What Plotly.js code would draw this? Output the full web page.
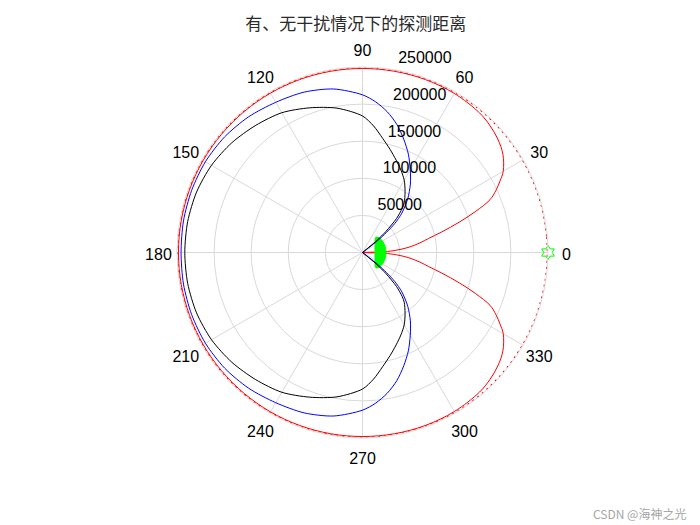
<!DOCTYPE html>
<html>
<head>
<meta charset="utf-8">
<script src="https://cdn.plot.ly/plotly-3.0.1.min.js"></script>
<style>html,body{margin:0;padding:0;background:#fff;}#chart{width:700px;height:525px;}</style>
</head>
<body>
<div id="chart"></div>
<script>
// ---- data ----
const TITLE = '有、无干扰情况下的探测距离';
const R_MAX = 250000;
const radialTicks = [50000, 100000, 150000, 200000, 250000];
const radialTickText = ['50000', '100000', '150000', '200000', '250000'];
const angleTicks = [0, 30, 60, 90, 120, 150, 180, 210, 240, 270, 300, 330];
const angleTickText = ['0', '30', '60', '90', '120', '150', '180', '210', '240', '270', '300', '330'];

// red solid: detection range (notch towards 0 deg)
const redTheta = [0, 2, 4, 6.5, 9.5, 12, 14.5, 17.5, 20, 22.5, 25, 27.5, 30, 35, 40, 45, 50, 60, 70, 80, 90,
  100, 110, 120, 130, 140, 150, 160, 170, 180, 190, 200, 210, 220, 230, 240, 250, 260, 270,
  280, 290, 300, 310, 315, 320, 325, 330, 332.5, 335, 337.5, 340, 342.5, 345.5, 348, 350.5, 353.5, 356, 358, 360];
const redR = [0, 29000, 46500, 63000, 78500, 91000, 110000, 137500, 162500, 186000, 198500, 209000, 219000, 231000, 238000, 242500, 245500, 247500, 248000, 248000, 248000,
  248000, 248000, 248000, 248000, 248000, 248000, 248000, 248000, 248000, 248000, 248000, 248000, 248000, 248000, 248000, 248000, 248000, 248000,
  248000, 248000, 247500, 245500, 242500, 238000, 231000, 219000, 209000, 198500, 186000, 162500, 137500, 110000, 91000, 78500, 63000, 46500, 29000, 0];

// red dotted: range without jamming (constant)
const dottedR = 249000;
const dottedTheta = [0, 5, 10, 15, 20, 25, 30, 35, 40, 45, 50, 55, 60, 65, 70, 75, 80, 85, 90, 95, 100, 105, 110, 115, 120,
  125, 130, 135, 140, 145, 150, 155, 160, 165, 170, 175, 180, 185, 190, 195, 200, 205, 210, 215, 220, 225, 230, 235, 240,
  245, 250, 255, 260, 265, 270, 275, 280, 285, 290, 295, 300, 305, 310, 315, 320, 325, 330, 335, 340, 345, 350, 355, 360];

// blue
const blueTheta = [0, 36, 38, 40, 42, 45, 50, 55, 60, 65, 70, 75, 80, 85, 90, 100, 110, 120, 130, 140, 150, 160, 170, 180,
  190, 200, 210, 220, 230, 240, 250, 260, 270, 275, 280, 285, 290, 295, 300, 305, 310, 315, 318, 320, 322, 324, 360];
const blueR = [0, 0, 25000, 42500, 58750, 75000, 95000, 112500, 128750, 146250, 162500, 178750, 192500, 203750, 212500, 223750, 230000, 233750, 238750, 242500, 244500, 245000, 245000, 244500,
  245000, 245000, 244500, 242500, 238750, 233750, 230000, 223750, 212500, 203750, 192500, 178750, 162500, 146250, 128750, 112500, 95000, 75000, 58750, 42500, 25000, 0, 0];

// black
const blackTheta = [0, 38, 40, 42, 45, 48, 50, 55, 60, 65, 70, 75, 80, 85, 90, 100, 110, 120, 130, 140, 150, 160, 170, 180,
  190, 200, 210, 220, 230, 240, 250, 260, 270, 275, 280, 285, 290, 295, 300, 305, 310, 312, 315, 318, 320, 322, 360];
const blackR = [0, 0, 25000, 42500, 65000, 80000, 87500, 100000, 112500, 122500, 132500, 143750, 156250, 171250, 184000, 197500, 207500, 217500, 223750, 230000, 235000, 238000, 239250, 239500,
  239250, 238000, 235000, 230000, 223750, 217500, 207500, 197500, 184000, 171250, 156250, 143750, 132500, 122500, 112500, 100000, 87500, 80000, 65000, 42500, 25000, 0, 0];

// green region near the origin (outer edge then inner edge)
const greenTheta = [-49, -45, -40, -30, -20, -10, 0, 10, 20, 30, 40, 45, 49, 45, 40, 30, 20, 10, 0, -10, -20, -30, -40, -45, -49];
const greenR = [27500, 29200, 30200, 31000, 31500, 31700, 31700, 31700, 31500, 31000, 30200, 29200, 27500, 23800, 22000, 19500, 17900, 17100, 16900, 17100, 17900, 19500, 22000, 23800, 27500];

// jammer marker
const starTheta = [0];
const starR = [250000];

// ---- figure ----
const labelFont = {family: 'Liberation Sans, Arial, sans-serif', size: 16, color: '#000'};
const traces = [
  {type: 'scatterpolar', mode: 'lines', r: redR, theta: redTheta, line: {color: '#ff0000', width: 1, shape: 'spline', smoothing: 1}, hoverinfo: 'skip'},
  {type: 'scatterpolar', mode: 'lines', r: dottedTheta.map(() => dottedR), theta: dottedTheta, line: {color: '#ff0000', width: 1.2, dash: '2px,4px', shape: 'spline'}, hoverinfo: 'skip'},
  {type: 'scatterpolar', mode: 'lines', r: greenR, theta: greenTheta, fill: 'toself', fillcolor: '#00ff00', line: {color: '#00ff00', width: 1}, hoverinfo: 'skip'},
  {type: 'scatterpolar', mode: 'lines', r: blueR, theta: blueTheta, line: {color: '#0000ff', width: 1, shape: 'spline', smoothing: 0.8}, hoverinfo: 'skip'},
  {type: 'scatterpolar', mode: 'lines', r: blackR, theta: blackTheta, line: {color: '#000000', width: 1, shape: 'spline', smoothing: 0.8}, hoverinfo: 'skip'},
  {type: 'scatterpolar', mode: 'markers', r: starR, theta: starTheta, marker: {symbol: 'hexagram-open', size: 11, color: '#00ff00', line: {width: 1, color: '#00ff00'}}, hoverinfo: 'skip', cliponaxis: false},
  // radial tick labels along 82 deg (MATLAB polar style), on an overlay polar with a wider range
  {type: 'scatterpolar', subplot: 'polar2', mode: 'markers+text', r: radialTicks.map(v => v + R_MAX / 5 * 0.265), theta: radialTicks.map(() => 82), text: radialTickText,
   marker: {size: 12, opacity: 0}, textposition: 'middle right', textfont: labelFont, cliponaxis: false, hoverinfo: 'skip'},
  // angular tick labels at 1.1 * rmax
  {type: 'scatterpolar', subplot: 'polar3', mode: 'text', r: angleTicks.map(() => R_MAX * 1.1), theta: angleTicks, text: angleTickText,
   textposition: 'middle center', textfont: labelFont, cliponaxis: false, hoverinfo: 'skip'}
];

const gridColor = '#d9d9d9';
// main polar: centre (362.5, 252.5) px, radius 185.5 px
const cx = 362.5, cyB = 525 - 252.5, rad = 185.5;
const ov = 1.2; // overlay polars: range R_MAX*1.2
const hiddenPolar = (dy) => ({
  domain: {x: [(cx - rad * ov) / 700, (cx + rad * ov) / 700], y: [(cyB - dy - rad * ov) / 525, (cyB - dy + rad * ov) / 525]},
  bgcolor: 'rgba(0,0,0,0)',
  radialaxis: {range: [0, R_MAX * ov], visible: false},
  angularaxis: {visible: false, direction: 'counterclockwise', rotation: 0}
});
const layout = {
  width: 700, height: 525,
  margin: {l: 0, r: 0, t: 0, b: 0},
  paper_bgcolor: '#fff', plot_bgcolor: '#fff',
  showlegend: false,
  title: {text: TITLE, x: 0.5083, xanchor: 'center', y: 1 - 24 / 525, yanchor: 'middle', yref: 'container',
          font: {family: 'Noto Sans CJK SC, sans-serif', size: 17, color: '#2a2a2a'}},
  polar: {
    domain: {x: [(cx - rad) / 700, (cx + rad) / 700], y: [(cyB - rad) / 525, (cyB + rad) / 525]},
    bgcolor: '#fff',
    radialaxis: {range: [0, R_MAX], tickvals: radialTicks, showticklabels: false, ticks: '', showline: false,
                 gridcolor: gridColor, gridwidth: 1, angle: 82},
    angularaxis: {tickvals: angleTicks, showticklabels: false, ticks: '', direction: 'counterclockwise', rotation: 0,
                  gridcolor: gridColor, gridwidth: 1, showline: true, linecolor: gridColor, linewidth: 1}
  },
  polar2: hiddenPolar(0),
  polar3: hiddenPolar(3.4),
  annotations: [{text: 'CSDN @海神之光', xref: 'paper', yref: 'paper', x: 639 / 700, y: 1 - 513 / 525, xanchor: 'center', yanchor: 'middle',
                 showarrow: false, font: {family: 'Noto Sans CJK SC, sans-serif', size: 12, color: '#a6a6a6'}}]
};

Plotly.newPlot('chart', traces, layout, {staticPlot: true, displayModeBar: false});
</script>
</body>
</html>
